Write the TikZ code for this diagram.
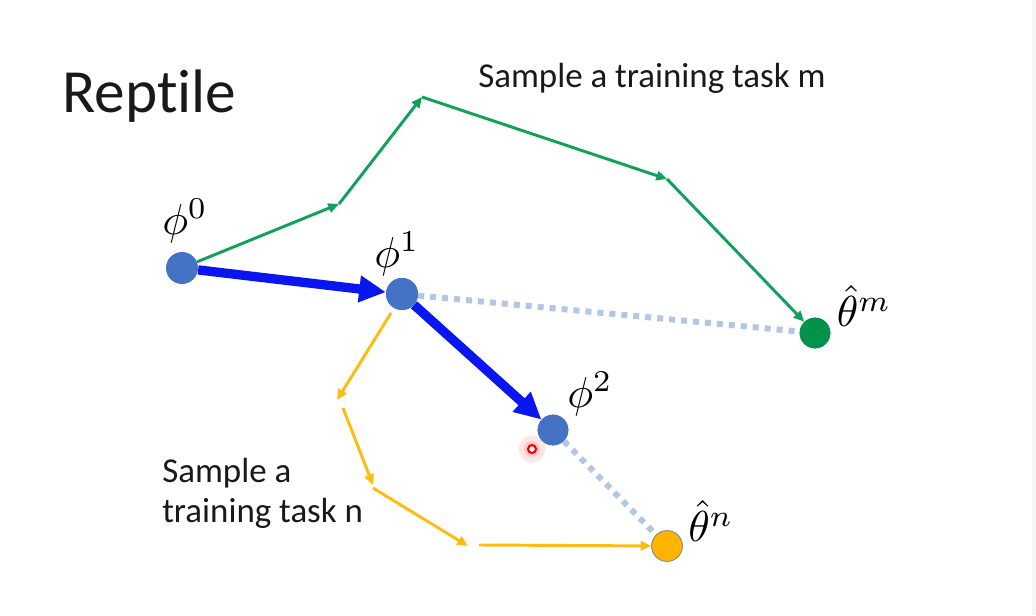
\documentclass[tikz,border=0pt]{standalone}
\usepackage{graphicx}
\usepackage{fontspec}
\setmainfont{Carlito}[Ligatures=NoCommon]
\usetikzlibrary{arrows.meta}
\definecolor{dotblue}{HTML}{4472C4}
\definecolor{arrblue}{HTML}{0A16F0}
\definecolor{pathgreen}{HTML}{12A15A}
\definecolor{dotgreen}{HTML}{00924A}
\definecolor{pathorange}{HTML}{FFBC10}
\definecolor{dotorange}{HTML}{FFB400}
\definecolor{dotline}{HTML}{B4C6E6}
\definecolor{stripgray}{HTML}{F5F5F5}
\newcommand{\biglbl}[1]{\scalebox{3.25}{$#1$}}
\tikzset{
  dot/.style={circle, inner sep=0pt, minimum size=24pt},
  greenarr/.style={draw=pathgreen, line width=2.2pt, -{Triangle[length=8pt,width=7pt]}},
  orangearr/.style={draw=pathorange, line width=2.2pt, -{Triangle[length=8pt,width=7pt]}},
  bluearr/.style={draw=arrblue, line width=7pt, -{Triangle[length=20pt,width=19pt]}},
  dottedlink/.style={draw=dotline, line width=4.5pt, dash pattern=on 4.5pt off 4.5pt},
  mathlbl/.style={inner sep=0pt},
  txt/.style={inner sep=0pt, anchor=base west, text=black!90}
}
\begin{document}
\begin{tikzpicture}[x=0.75pt,y=-0.75pt]
\useasboundingbox (0,0) rectangle (1036,615);
\fill[white] (0,0) rectangle (1036,615);
\fill[stripgray] (1032,0) rectangle (1036,615);

% dots
\node[dot, fill=dotblue] (p0) at (182,268) {};
\node[dot, fill=dotblue] (p1) at (402,294) {};
\node[dot, fill=dotblue, minimum size=23pt] (p2) at (553,430) {};
\node[dot, fill=dotgreen, minimum size=23pt] (tm) at (815,333) {};
\node[dot, fill=dotorange, draw=black!45, line width=0.6pt, minimum size=23pt] (tn) at (667,546) {};

% dotted links
\draw[dottedlink] (p1) -- (tm);
\draw[dottedlink] (p2) -- (tn);

% redraw dots on top of dotted links
\node[dot, fill=dotblue] at (p1) {};
\node[dot, fill=dotblue, minimum size=23pt] at (p2) {};
\node[dot, fill=dotgreen, minimum size=23pt] at (tm) {};
\node[dot, fill=dotorange, draw=black!45, line width=0.6pt, minimum size=23pt] at (tn) {};

% green path
\coordinate (g1) at (339,204);
\coordinate (g2) at (422,97);
\coordinate (g3) at (667,179);
\draw[greenarr] (p0) -- (g1);
\draw[greenarr] (g1) -- (g2);
\draw[greenarr] (g2) -- (g3);
\draw[greenarr] (g3) -- (tm);

% orange path
\coordinate (o1s) at (391,313);
\coordinate (o1e) at (337,400);
\coordinate (o2s) at (343,408);
\coordinate (o2e) at (373,485);
\coordinate (o3s) at (373,488);
\coordinate (o3e) at (468,546);
\coordinate (o4s) at (479,545);
\draw[orangearr] (o1s) -- (o1e);
\draw[orangearr] (o2s) -- (o2e);
\draw[orangearr] (o3s) -- (o3e);
\draw[orangearr] (o4s) -- (tn);

% blue update arrows
\draw[bluearr] (p0) -- (p1);
\draw[bluearr] (p1) -- (p2);

% labels
\node[mathlbl] (l0) at (185,221) {\biglbl{\phi^0}};
\node[mathlbl] (l1) at (397,254) {\biglbl{\phi^1}};
\node[mathlbl] (l2) at (590,394) {\biglbl{\phi^2}};
\node[mathlbl] (lm) at (864,306) {\biglbl{\hat{\theta}^m}};
\node[mathlbl] (ln) at (711,521) {\biglbl{\hat{\theta}^n}};

\node[txt, font=\fontsize{46}{55}\selectfont] (title) at (62,112) {Reptile};
\node[txt, font=\fontsize{26.2}{30}\selectfont] (taskm) at (478,87) {Sample a training task m};
\node[txt, font=\fontsize{26.2}{30}\selectfont] (taskn1) at (162,482) {Sample a};
\node[txt, font=\fontsize{26.2}{30}\selectfont] (taskn2) at (162,522) {training task n};

% laser pointer
\fill[red, opacity=0.10] (532,449) circle (10pt);
\fill[red, opacity=0.12] (532,449) circle (6pt);
\node[circle, draw=red, fill=white, line width=1.6pt, minimum size=6pt, inner sep=0pt] (cursor) at (532,449) {};
\end{tikzpicture}
\end{document}
